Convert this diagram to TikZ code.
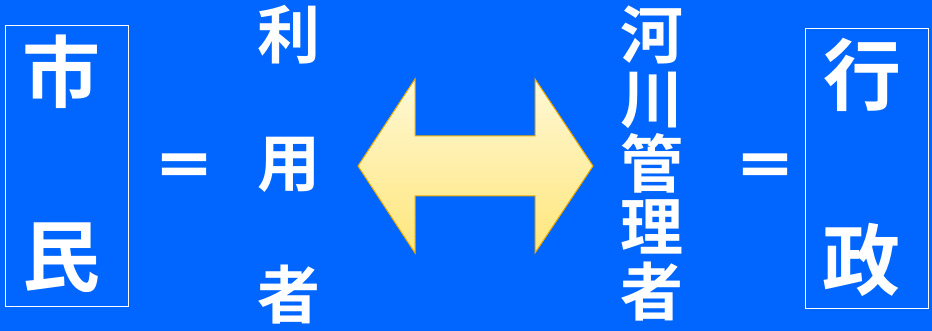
\documentclass[tikz,border=0pt]{standalone}
\usepackage{fontspec}
\newfontfamily\cjk{Noto Sans CJK JP}[BoldFont={Noto Sans CJK JP Bold}]
\newfontfamily\cjkeq{Noto Sans CJK JP Bold}[FakeBold=2.5]
\definecolor{bg}{HTML}{0066FF}
\definecolor{arrtop}{HTML}{FFF8D6}
\definecolor{arrbot}{HTML}{FFE67A}
\definecolor{arredge}{HTML}{EBA800}
\begin{document}
\begin{tikzpicture}[x=1pt,y=-1pt,
  big/.style={text=white,inner sep=0pt,font=\cjk\bfseries\fontsize{78}{78}\selectfont},
  mid/.style={text=white,inner sep=0pt,font=\cjk\bfseries\fontsize{63}{63}\selectfont},
  eq/.style={text=white,inner sep=0pt,font=\cjkeq\fontsize{60}{60}\selectfont},
  frame/.style={draw=white,line width=1pt,inner sep=0pt,minimum width=123pt,minimum height=280pt}]
\fill[bg] (0,0) rectangle (932,331);
\useasboundingbox (0,0) rectangle (932,331);
% boxes
\node[frame] (lbox) at (66.5,166) {};
\node[frame,minimum height=279pt] (rbox) at (866.5,168.5) {};
% left box text
\node[big] (shi) at (61,72) {市};
\node[big] (min) at (62,258) {民};
% right box text
\node[big] (gyo) at (862,75) {行};
\node[big] (sei) at (861,260) {政};
% equals
\node[eq] (eq1) at (184,171) {＝};
\node[eq] (eq2) at (765,171) {＝};
% users
\node[mid] (ri) at (289,35) {利};
\node[mid] (yo) at (289,165) {用};
\node[mid] (sha) at (289,295) {者};
% river managers
\node[mid] (ka) at (652,35) {河};
\node[mid] (sen) at (652,100) {川};
\node[mid] (kan) at (652,163) {管};
\node[mid] (ri2) at (652,227) {理};
\node[mid] (sha2) at (652,292) {者};
% double arrow
\shade[top color=arrtop,bottom color=arrbot,draw=arredge,line width=1pt,line join=miter]
  (358,166) -- (415,79) -- (415,136) -- (535,136) -- (535,79) -- (593,166)
  -- (535,253) -- (535,196) -- (415,196) -- (415,253) -- cycle;
\end{tikzpicture}
\end{document}
